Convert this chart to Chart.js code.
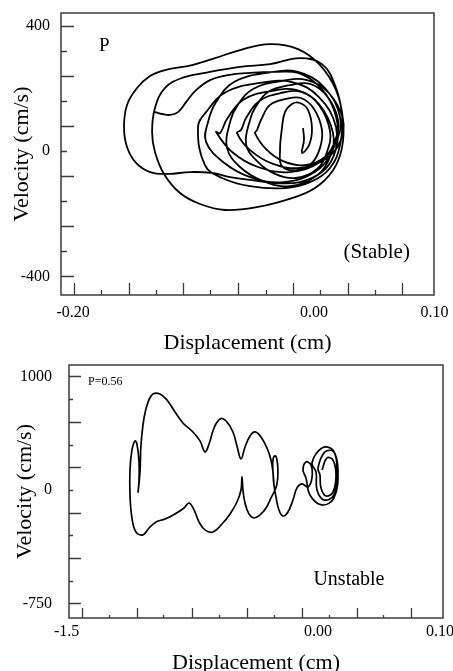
<!DOCTYPE html>
<html lang="en">
<head>
<meta charset="UTF-8">
<title>Phase plane response</title>
<script src="https://cdn.jsdelivr.net/npm/chart.js"></script>
<style>
  body { margin: 0; background: #fff; }
  .panel { position: absolute; left: 0; width: 453px; }
</style>
</head>
<body>
<div class="panel" style="top:0px"><canvas id="stable" width="453" height="360"></canvas></div>
<div class="panel" style="top:348px"><canvas id="unstable" width="453" height="340"></canvas></div>
<script>
// stable case: displacement (cm) / velocity (cm/s)
const stableX = [
  -0.1320, -0.1261, -0.1195, -0.1129, -0.1062, -0.0979, -0.0863, -0.0714, -0.0531, -0.0324, -0.0133, 0.0033, 0.0149, 0.0199, 0.0166, 0.0066, -0.0116, -0.0324, -0.0531, -0.0697, -0.0846, -0.1029, -0.1212, -0.1361, -0.1477, -0.1552, -0.1577,
  -0.1552, -0.1469, -0.1361, -0.1237, -0.1012, -0.0822, -0.0614, -0.0365, -0.0133, 0.0050, 0.0183, 0.0241, 0.0232, 0.0158, 0.0008, -0.0183, -0.0465, -0.0739, -0.0946, -0.1112, -0.1245, -0.1320, -0.1344,
  -0.1320, -0.1237, -0.1095, -0.0905, -0.0614, -0.0365, -0.0116, 0.0066, 0.0174, 0.0232, 0.0216, 0.0133, -0.0033, -0.0241,
  -0.0531, -0.0763, -0.0905,
  -0.0963, -0.0896, -0.0730, -0.0448, -0.0183, 0.0041, 0.0183, 0.0149, 0.0008, -0.0249, -0.0531, -0.0755, -0.0896,
  -0.0880, -0.0813, -0.0664, -0.0390, -0.0133, 0.0083, 0.0216, 0.0183, 0.0050, -0.0199, -0.0465, -0.0680, -0.0813,
  -0.0780, -0.0722, -0.0589, -0.0357, -0.0141, 0.0041, 0.0158, 0.0133, 0.0017, -0.0199, -0.0423, -0.0614, -0.0722,
  -0.0697, -0.0639, -0.0506, -0.0274, -0.0058, 0.0124, 0.0241, 0.0216, 0.0100, -0.0116, -0.0340, -0.0531, -0.0639,
  -0.0606, -0.0564, -0.0456, -0.0274, -0.0100, 0.0041, 0.0133, 0.0108, 0.0025, -0.0149, -0.0324, -0.0473, -0.0564,
  -0.0531, -0.0490, -0.0382, -0.0199, -0.0033, 0.0108, 0.0199, 0.0174, 0.0091, -0.0075, -0.0257, -0.0398, -0.0490,
  -0.0473, -0.0440, -0.0365, -0.0232, -0.0108, 0, 0.0066, 0.0050, -0.0017, -0.0141, -0.0266,
  -0.0282, -0.0266, -0.0241, -0.0183, -0.0116, -0.0050, -0.0017, -0.0041, -0.0100, -0.0083, -0.0091
];
const stableV = [
  124, 118, 115, 124, 156, 194, 226, 242, 249, 252, 249, 210, 147, 67, -13, -67, -99, -102, -92, -83, -70, -67, -73, -67, -38, 13, 76,
  147, 201, 239, 258, 274, 296, 322, 341, 325, 274, 194, 99, 10, -61, -118, -150, -178, -188, -169, -134, -73, -3, 61,
  137, 201, 233, 249, 268, 277, 296, 277, 210, 115, 19, -54, -99, -118,
  -112, -86, -45,
  76, 124, 188, 217, 220, 172, 76, -3, -67, -99, -83, -35, 29,
  92, 156, 220, 249, 252, 204, 108, 29, -35, -67, -51, -3, 61,
  57, 102, 163, 191, 194, 150, 57, -19, -80, -112, -96, -51, 10,
  92, 143, 198, 223, 226, 185, 99, 29, -25, -54, -41, 3, 57,
  67, 105, 159, 185, 188, 147, 64, -3, -57, -86, -73, -32, 22,
  99, 137, 188, 210, 214, 175, 99, 32, -19, -45, -32, 6, 57,
  67, 99, 147, 166, 169, 134, 67, 10, -38, -61, -48,
  3, 73, 124, 150, 153, 131, 73, 19, -6, 35, 73
];
const stableXTicks = [-0.20, 0, 0.10];
const stableXLabels = ['-0.20', '0.00', '0.10'];
const stableVTicks = [400, 0, -400];
const stableVLabels = ['400', '0', '-400'];
const stableXMarks = [-0.1992, -0.1768, -0.1535, -0.1311, -0.1087, -0.0863, -0.0631, -0.0398, -0.0174, 0.0050, 0.0282, 0.0506, 0.0730];
const stableVMarks = [400, 320, 240, 160, 80, 0, -80, -160, -240, -320, -400];

// unstable case (P=0.56)
const unstableX = [
  0.0033, 0.0074, 0.0123, 0.0148, 0.0123, 0.0066, 0.0025, 0.0016,
  0, 0.0057, 0.0131, 0.0156, 0.0131, 0.0049, -0.0008, -0.0016,
  -0.0049, 0.0033, 0.0123, 0.0164, 0.0131, 0.0033, -0.0066, -0.0098,
  -0.0123, -0.0098, -0.0057, -0.0049, -0.0082, -0.0131, -0.0172, -0.0205, -0.0246, -0.0287, -0.0320, -0.0344, -0.0361,
  -0.0369, -0.0369, -0.0352, -0.0336, -0.0328, -0.0336, -0.0352,
  -0.0385, -0.0426, -0.0475, -0.0525, -0.0566, -0.0598, -0.0615, -0.0623, -0.0631, -0.0664, -0.0721, -0.0787, -0.0861, -0.0926, -0.0975, -0.1016, -0.1057, -0.1098, -0.1172, -0.1254, -0.1328, -0.1385, -0.1434, -0.1492, -0.1525, -0.1541, -0.1541, -0.1525, -0.1500, -0.1484, -0.1467, -0.1467, -0.1475,
  -0.1459, -0.1451, -0.1426, -0.1393, -0.1352, -0.1295, -0.1238, -0.1172, -0.1107, -0.1025, -0.0967, -0.0926, -0.0893, -0.0852, -0.0803, -0.0754, -0.0697, -0.0664, -0.0631, -0.0598, -0.0557, -0.0516, -0.0467, -0.0418, -0.0385, -0.0369, -0.0361
];
const unstableV = [
  176, 282, 264, 132, -18, -53, 18, 132,
  194, 335, 335, 176, -44, -88, 0, 159,
  238, 370, 352, 176, -70, -132, -44, 106,
  176, 247, 220, 106, 26, 53, 18, -88, -194, -229, -176, -62, 44,
  159, 264, 300, 264, 159, 53, 0,
  -70, -159, -220, -247, -211, -115, 0, 115, 0, -106, -211, -300, -370, -352, -282, -176, -115, -159, -211, -256, -282, -335, -396, -370, -247, -44, 176, 352, 432, 405, 247, 88, -18,
  159, 396, 634, 775, 846, 846, 793, 687, 590, 511, 432, 335, 405, 546, 626, 608, 511, 388, 273, 379, 476, 511, 467, 370, 264, 159, 44
];
const unstableXTicks = [-0.206, 0, 0.10];
const unstableXLabels = ['-1.5', '0.00', '0.10'];
const unstableVTicks = [1000, 0, -1000];
const unstableVLabels = ['1000', '0', '-750'];
const unstableXMarks = [-0.1934, -0.1713, -0.1484, -0.1270, -0.1033, -0.0811, -0.0582, -0.0361, -0.0131, 0.0090, 0.0320, 0.0533, 0.0762];
const unstableVMarks = [1000, 800, 600, 400, 200, 0, -200, -400, -600, -800, -1000];

Chart.defaults.font.family = '"Liberation Serif", "Times New Roman", serif';
Chart.defaults.color = '#000';

function phasePlot(id, xs, vs, s) {
  const pts = xs.map((x, i) => ({ x: x, y: vs[i] }));

  // box around the plot, inward tick marks and the text notes
  const frame = {
    id: 'frame',
    afterDatasetsDraw(chart) {
      const { ctx, chartArea: a, scales: { x, y } } = chart;
      ctx.save();
      ctx.strokeStyle = '#3c3c3c';
      ctx.lineWidth = 1.5;
      ctx.strokeRect(a.left, a.top, a.right - a.left, a.bottom - a.top);
      ctx.lineWidth = 1.3;
      ctx.beginPath();
      s.xMarks.forEach((v, i) => {
        const px = Math.round(x.getPixelForValue(v)) + 0.5;
        ctx.moveTo(px, a.bottom);
        ctx.lineTo(px, a.bottom - (i % 2 ? s.tick[1] : s.tick[0]));
      });
      s.yMarks.forEach((v, i) => {
        const py = Math.round(y.getPixelForValue(v)) + 0.5;
        ctx.moveTo(a.left, py);
        ctx.lineTo(a.left + (i % 2 ? s.tick[3] : s.tick[2]), py);
      });
      ctx.stroke();
      ctx.fillStyle = '#000';
      ctx.textBaseline = 'middle';
      s.notes.forEach(n => {
        ctx.font = n.size + 'px "Liberation Serif", serif';
        ctx.textAlign = n.align;
        ctx.fillText(n.text, x.getPixelForValue(n.x), y.getPixelForValue(n.y));
      });
      ctx.restore();
    }
  };

  return new Chart(document.getElementById(id), {
    type: 'scatter',
    data: {
      datasets: [{
        data: pts,
        showLine: true,
        borderColor: '#000',
        borderWidth: s.lw,
        pointRadius: 0,
        tension: 0.4,
        fill: false
      }]
    },
    options: {
      responsive: false,
      animation: false,
      layout: { padding: s.pad },
      plugins: { legend: { display: false }, tooltip: { enabled: false } },
      scales: {
        x: {
          type: 'linear',
          min: s.xMin, max: s.xMax,
          grid: { display: false, drawTicks: false },
          border: { display: false },
          afterBuildTicks: sc => { sc.ticks = s.xTicks.map(v => ({ value: v })); },
          afterFit: sc => { sc.height = s.xH; sc.paddingLeft = 0; sc.paddingRight = 0; },
          ticks: {
            autoSkip: false, maxRotation: 0, padding: s.xPad,
            font: { size: 16 },
            callback: (v, i) => s.xLabels[i]
          },
          title: { display: true, text: 'Displacement (cm)', font: { size: 22 }, padding: { top: 0, bottom: 0 } }
        },
        y: {
          type: 'linear',
          min: s.yMin, max: s.yMax,
          grid: { display: false, drawTicks: false },
          border: { display: false },
          afterBuildTicks: sc => { sc.ticks = s.yTicks.map(v => ({ value: v })); },
          afterFit: sc => { sc.width = s.yW; sc.paddingTop = 0; sc.paddingBottom = 0; },
          ticks: {
            autoSkip: false, padding: s.yPad,
            font: { size: 16 },
            callback: (v, i) => s.yLabels[i]
          },
          title: { display: true, text: 'Velocity (cm/s)', font: { size: 22 }, padding: { top: s.yTitlePad, bottom: 0 } }
        }
      }
    },
    plugins: [frame]
  });
}

phasePlot('stable', stableX, stableV, {
  xMin: -0.21, xMax: 0.0996, yMin: -459, yMax: 440,
  xTicks: stableXTicks, xLabels: stableXLabels,
  yTicks: stableVTicks, yLabels: stableVLabels,
  xMarks: stableXMarks, yMarks: stableVMarks,
  tick: [12, 5, 13, 6],
  lw: 1.8,
  pad: { top: 13, right: 19, bottom: 4, left: 0 },
  xH: 61, yW: 61, xPad: 8, yPad: 11, yTitlePad: 9,
  notes: [
    { text: 'P', x: -0.174, y: 335, size: 19, align: 'center' },
    { text: '(Stable)', x: 0.052, y: -322, size: 21, align: 'center' }
  ]
});

phasePlot('unstable', unstableX, unstableV, {
  xMin: -0.2041, xMax: 0.1025, yMin: -1128, yMax: 1101,
  xTicks: unstableXTicks, xLabels: unstableXLabels,
  yTicks: unstableVTicks, yLabels: unstableVLabels,
  xMarks: unstableXMarks, yMarks: unstableVMarks,
  tick: [10, 3, 12, 4],
  lw: 1.7,
  pad: { top: 17, right: 10, bottom: 12, left: 0 },
  xH: 58, yW: 69, xPad: 4, yPad: 17, yTitlePad: 12,
  notes: [
    { text: 'P=0.56', x: -0.1885, y: 951, size: 12, align: 'left' },
    { text: 'Unstable', x: 0.0254, y: -793, size: 20, align: 'center' }
  ]
});
</script>
</body>
</html>
